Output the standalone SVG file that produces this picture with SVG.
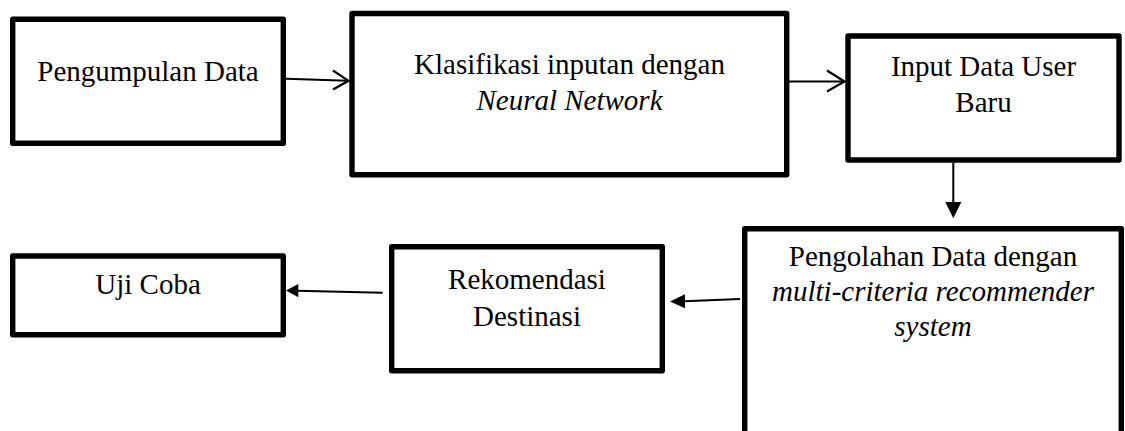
<svg xmlns="http://www.w3.org/2000/svg" width="1125" height="431" viewBox="0 0 1125 431">
  <style>
    .box { fill: #ffffff; stroke: #000000; stroke-width: 5.4; stroke-linejoin: round; }
    .lbl { font-family: "Liberation Serif", "Times New Roman", serif; font-size: 29px; fill: #000000; text-anchor: middle; }
    .it { font-style: italic; }
    .line { stroke: #000000; stroke-width: 2; fill: none; }
    .head { fill: #000000; stroke: none; }
    .chev { stroke: #000000; stroke-width: 2.2; fill: none; stroke-linejoin: miter; }
  </style>

  <rect x="0" y="0" width="1125" height="431" fill="#ffffff"/>

  <!-- process steps -->
  <g id="pengumpulan-data">
    <rect class="box" x="12.7" y="19.3" width="270.6" height="124"/>
    <text class="lbl" x="148" y="81">Pengumpulan Data</text>
  </g>

  <g id="klasifikasi">
    <rect class="box" x="352" y="13.5" width="434.7" height="161.2"/>
    <text class="lbl" x="569.5" y="74">Klasifikasi inputan dengan</text>
    <text class="lbl it" x="569.5" y="110">Neural Network</text>
  </g>

  <g id="input-user">
    <rect class="box" x="848" y="36" width="271" height="124"/>
    <text class="lbl" x="983.5" y="76">Input Data User</text>
    <text class="lbl" x="983.5" y="112">Baru</text>
  </g>

  <g id="pengolahan">
    <rect class="box" x="744.7" y="228.7" width="376.6" height="220"/>
    <text class="lbl" x="933" y="265.5">Pengolahan Data dengan</text>
    <text class="lbl it" x="933" y="300.5">multi-criteria recommender</text>
    <text class="lbl it" x="933" y="335.5">system</text>
  </g>

  <g id="rekomendasi">
    <rect class="box" x="391.7" y="246.7" width="270.6" height="124"/>
    <text class="lbl" x="527" y="288.5">Rekomendasi</text>
    <text class="lbl" x="527" y="326">Destinasi</text>
  </g>

  <g id="uji-coba">
    <rect class="box" x="12.7" y="256" width="270.6" height="78.7"/>
    <text class="lbl" x="148" y="294.3">Uji Coba</text>
  </g>

  <!-- connectors -->
  <g id="connectors">
    <line class="line" x1="286" y1="78.7" x2="348" y2="80.8"/>
    <polyline class="chev" points="333,70.5 348.5,80.8 333,89.5"/>

    <line class="line" x1="789" y1="81.5" x2="844" y2="81.5"/>
    <polyline class="chev" points="827,70.5 844.5,81.5 827,91.5"/>

    <line class="line" x1="953.3" y1="162.7" x2="953.3" y2="203"/>
    <polygon class="head" points="945.3,202 961.3,202 953.3,218.3"/>

    <line class="line" x1="740" y1="299" x2="684" y2="301.2"/>
    <polygon class="head" points="685,294.3 685,308.3 670,301.5"/>

    <line class="line" x1="382.7" y1="292.7" x2="297" y2="290.7"/>
    <polygon class="head" points="298.3,284 298.3,297.3 286,290.5"/>
  </g>
</svg>
